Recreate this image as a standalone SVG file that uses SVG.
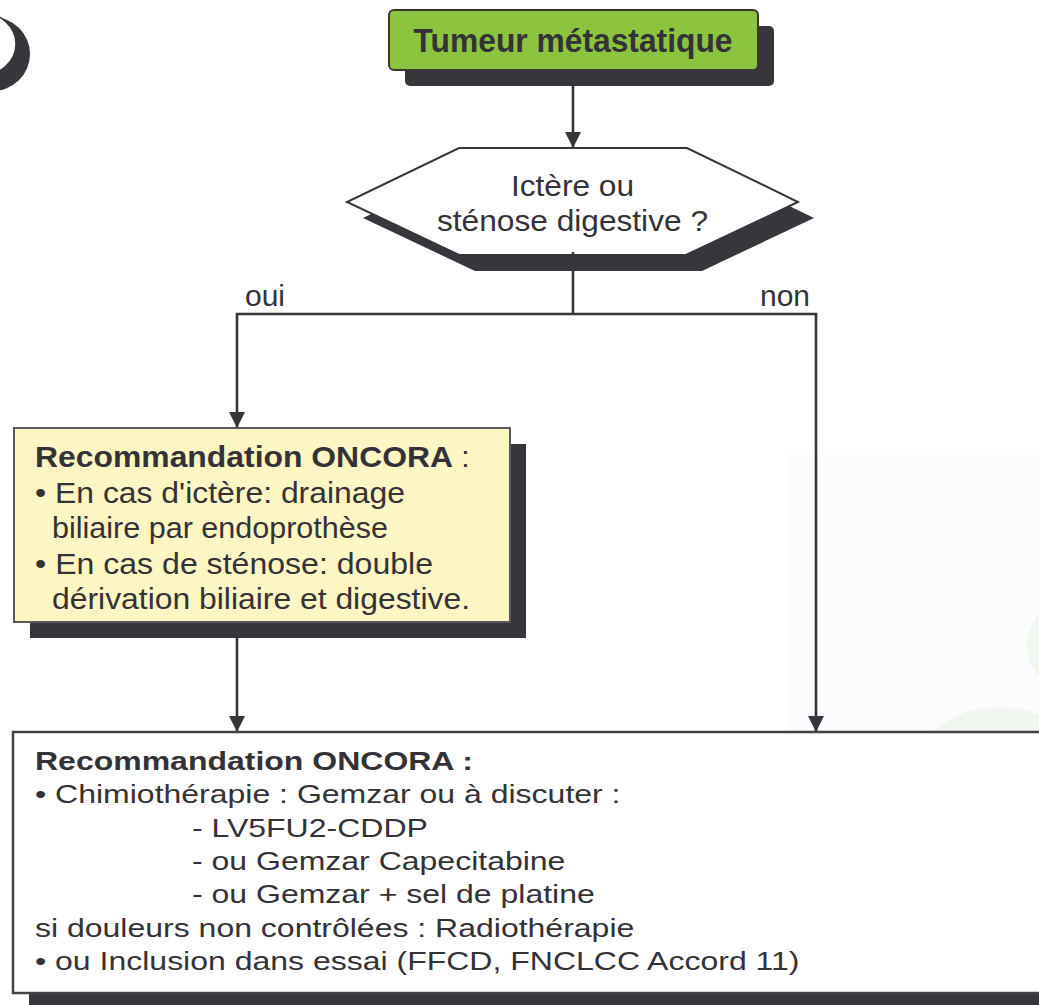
<svg xmlns="http://www.w3.org/2000/svg" width="1039" height="1005" viewBox="0 0 1039 1005">
<defs>
<style>
.t{font-family:"Liberation Sans",Arial,Helvetica,sans-serif;fill:#343236;}
.b{font-weight:bold;}
.sh{fill:#38363b;}
.conn{stroke:#38363b;stroke-width:2.6;fill:none;}
</style>
<marker id="arr" markerUnits="userSpaceOnUse" markerWidth="16" markerHeight="16" refX="15" refY="8" orient="auto">
<path d="M0,0 L16,8 L0,16 Z" fill="#38363b"/>
</marker>
</defs>
<rect width="1039" height="1005" fill="#ffffff"/>
<!-- faint background decorations -->
<rect x="787" y="455" width="252" height="280" fill="#fcfbfd"/>
<circle cx="1075" cy="645" r="48" fill="#f1f7f0"/>
<ellipse cx="1000" cy="790" rx="95" ry="83" fill="#f1f7f0"/>
<!-- top-left fragment -->
<g id="corner">
<ellipse cx="-8" cy="54" rx="38" ry="37" class="sh"/>
<ellipse cx="-20" cy="44" rx="36" ry="32" fill="#ffffff" stroke="#38363b" stroke-width="1.5"/>
</g>
<g id="n-tumeur">
<rect x="405" y="26" width="369" height="60" rx="5" class="sh"/>
<rect x="389" y="10" width="369" height="60" rx="5" fill="#8cc43f" stroke="#38363b" stroke-width="2"/>
<text x="573" y="52" class="t b" font-size="32.5" text-anchor="middle" textLength="319" lengthAdjust="spacingAndGlyphs">Tumeur métastatique</text>
</g>
<g id="n-decision">
<polygon points="475,164 703,164 814,218 702,271 475,271 363,218" class="sh"/>
<polygon points="459,148 687,148 798,202 686,255 459,255 347,202" fill="#ffffff" stroke="#38363b" stroke-width="2"/>
<text x="572.5" y="196" class="t" font-size="30" text-anchor="middle" textLength="123" lengthAdjust="spacingAndGlyphs">Ictère ou</text>
<text x="572.5" y="231" class="t" font-size="30" text-anchor="middle" textLength="271" lengthAdjust="spacingAndGlyphs">sténose digestive ?</text>
</g>
<g id="n-reco1">
<rect x="30" y="444" width="496" height="194" class="sh"/>
<rect x="14" y="428" width="496" height="194" fill="#fcf6c2" stroke="#5a585c" stroke-width="2"/>
<text x="35" y="467" class="t" font-size="30"><tspan class="b" textLength="418" lengthAdjust="spacingAndGlyphs">Recommandation ONCORA</tspan><tspan> :</tspan></text>
<text x="35" y="502.5" class="t" font-size="30" textLength="370" lengthAdjust="spacingAndGlyphs">• En cas d'ictère: drainage</text>
<text x="52" y="538" class="t" font-size="30" textLength="336" lengthAdjust="spacingAndGlyphs">biliaire par endoprothèse</text>
<text x="35" y="573.5" class="t" font-size="30" textLength="398" lengthAdjust="spacingAndGlyphs">• En cas de sténose: double</text>
<text x="52" y="609" class="t" font-size="30" textLength="418" lengthAdjust="spacingAndGlyphs">dérivation biliaire et digestive.</text>
</g>
<g id="n-reco2">
<rect x="29" y="748" width="1030" height="270" class="sh"/>
<rect x="13" y="732" width="1040" height="261" fill="#ffffff" stroke="#444246" stroke-width="2.5"/>
<g transform="scale(1.25,1)" class="t" font-size="25.6">
<text x="28" y="770" class="b">Recommandation ONCORA :</text>
<text x="28" y="803.3">• Chimiothérapie : Gemzar ou à discuter :</text>
<text x="153.6" y="836.7">- LV5FU2-CDDP</text>
<text x="153.6" y="870">- ou Gemzar Capecitabine</text>
<text x="153.6" y="903.3">- ou Gemzar + sel de platine</text>
<text x="28" y="936.7">si douleurs non contrôlées : Radiothérapie</text>
<text x="28" y="970">• ou Inclusion dans essai (FFCD, FNCLCC Accord 11)</text>
</g>
</g>
<g id="connectors">
<path class="conn" d="M573,70 V147" marker-end="url(#arr)"/>
<path class="conn" d="M573,252 V314"/>
<path class="conn" d="M573,314 H237 V427" marker-end="url(#arr)"/>
<path class="conn" d="M573,314 H816 V731" marker-end="url(#arr)"/>
<path class="conn" d="M237,638 V731" marker-end="url(#arr)"/>
<text x="245" y="306" class="t" font-size="30">oui</text>
<text x="760" y="306" class="t" font-size="30">non</text>
</g>
</svg>
